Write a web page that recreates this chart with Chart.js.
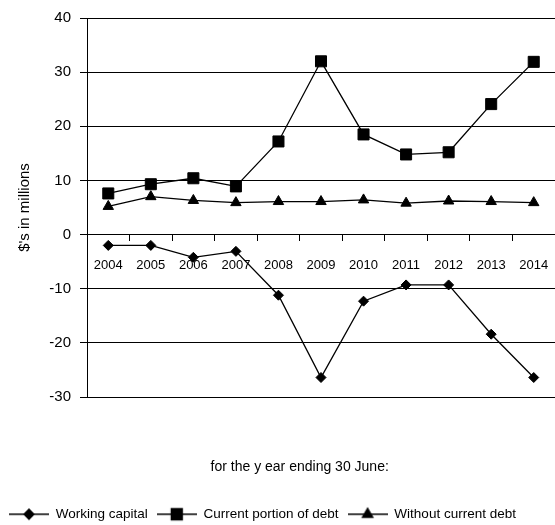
<!DOCTYPE html>
<html>
<head>
<meta charset="utf-8">
<script src="https://cdn.jsdelivr.net/npm/chart.js@4.4.1/dist/chart.umd.min.js"></script>
<style>
  html, body { margin: 0; padding: 0; background: #fff; }
  #wrap { width: 555px; height: 525px; }
</style>
</head>
<body>
<div id="wrap"><canvas id="chart" width="555" height="525"></canvas></div>
<script>
// Financial years (ending 30 June)
const years = ['2004', '2005', '2006', '2007', '2008', '2009', '2010', '2011', '2012', '2013', '2014'];

// $ millions
const workingCapital       = [-2.0, -2.0, -4.2, -3.1, -11.2, -26.4, -12.3, -9.3, -9.3, -18.4, -26.4];
const currentPortionOfDebt = [7.6, 9.3, 10.4, 8.9, 17.2, 32.0, 18.5, 14.8, 15.2, 24.1, 31.9];
const withoutCurrentDebt   = [5.2, 7.0, 6.3, 5.9, 6.1, 6.1, 6.4, 5.8, 6.2, 6.1, 5.9];

const seriesNames = ['Working capital', 'Current portion of debt', 'Without current debt'];
const seriesStyles = ['rectRot', 'rect', 'triangle'];
const seriesRadius = [5, 7.8, 6];

const yMin = -30, yMax = 40, yStep = 10;
const yTitle = "$'s in millions";
const xCaption = 'for the y ear ending 30 June:';

const FONT = "'Liberation Sans', Arial, sans-serif";
Chart.defaults.font.family = FONT;
Chart.defaults.font.size = 14;
Chart.defaults.color = '#000';

// Legend swatch: short line with the series marker in the middle
function makeSwatch(style, radius) {
  const c = document.createElement('canvas');
  c.width = 40; c.height = 16;
  const ctx = c.getContext('2d');
  ctx.strokeStyle = '#000';
  ctx.fillStyle = '#000';
  ctx.lineWidth = 1.3;
  ctx.beginPath();
  ctx.moveTo(0, 8); ctx.lineTo(40, 8);
  ctx.stroke();
  Chart.helpers.drawPoint(ctx, { pointStyle: style, radius: radius, rotation: 0, borderWidth: 1 }, 20, 8);
  return c;
}

const seriesData = [workingCapital, currentPortionOfDebt, withoutCurrentDebt];
const datasets = seriesData.map((d, i) => ({
  label: seriesNames[i],
  data: d,
  xAxisID: 'x',
  yAxisID: 'y',
  borderColor: '#000',
  backgroundColor: '#000',
  borderWidth: 1.3,
  pointStyle: seriesStyles[i],
  pointRadius: seriesRadius[i],
  pointBackgroundColor: '#000',
  pointBorderColor: '#000',
  pointBorderWidth: 1,
  tension: 0,
  fill: false
}));

// Caption under the plot, inside the band reserved by the 'caption' scale
const captionPlugin = {
  id: 'captionText',
  afterDraw(chart) {
    const ctx = chart.ctx;
    ctx.save();
    ctx.font = '14px ' + FONT;
    ctx.fillStyle = '#000';
    ctx.textAlign = 'center';
    ctx.textBaseline = 'middle';
    ctx.fillText(xCaption, chart.width * 0.54, chart.chartArea.bottom + 70);
    ctx.restore();
  }
};

new Chart(document.getElementById('chart'), {
  type: 'line',
  data: { labels: years, datasets },
  plugins: [captionPlugin],
  options: {
    responsive: false,
    animation: false,
    layout: { autoPadding: false, padding: { top: 9, right: 0, left: 0, bottom: -6 } },
    plugins: {
      tooltip: { enabled: false },
      legend: {
        position: 'bottom',
        align: 'start',
        labels: {
          usePointStyle: true,
          pointStyleWidth: 40,
          boxHeight: 14,
          padding: 9,
          color: '#000',
          font: { size: 13.5 },
          generateLabels(chart) {
            return chart.data.datasets.map((ds, i) => ({
              text: ds.label,
              pointStyle: makeSwatch(seriesStyles[i], seriesRadius[i]),
              fillStyle: '#000',
              strokeStyle: '#000',
              lineWidth: 0,
              datasetIndex: i,
              hidden: false
            }));
          }
        }
      }
    },
    scales: {
      x: {
        type: 'category',
        axis: 'x',
        position: { y: 0 },
        offset: true,
        afterFit(s) { s.paddingLeft = 0; s.paddingRight = 0; },
        grid: { offset: true, drawOnChartArea: false, drawTicks: true, tickLength: 6, color: '#000', lineWidth: 1 },
        border: { display: true, color: '#000', width: 1 },
        ticks: { padding: 3, color: '#000', maxRotation: 0, autoSkip: false, font: { size: 13, lineHeight: 3.4 } }
      },
      caption: {
        type: 'category',
        axis: 'x',
        position: 'bottom',
        labels: years,
        afterFit(s) { s.height = 101.5; s.paddingLeft = 0; s.paddingRight = 0; },
        grid: { display: false },
        border: { display: false },
        ticks: { display: false }
      },
      y: {
        type: 'linear',
        position: 'left',
        min: yMin,
        max: yMax,
        afterFit(s) { s.width = 87; },
        ticks: { stepSize: yStep, padding: 9, color: '#000', font: { size: 15 } },
        grid: { color: '#000', lineWidth: 1, tickLength: 7, drawTicks: true },
        border: { display: true, color: '#000', width: 1 },
        title: { display: true, text: yTitle, color: '#000', font: { size: 15 }, padding: { top: 16, bottom: 0 } }
      }
    }
  }
});
</script>
</body>
</html>
